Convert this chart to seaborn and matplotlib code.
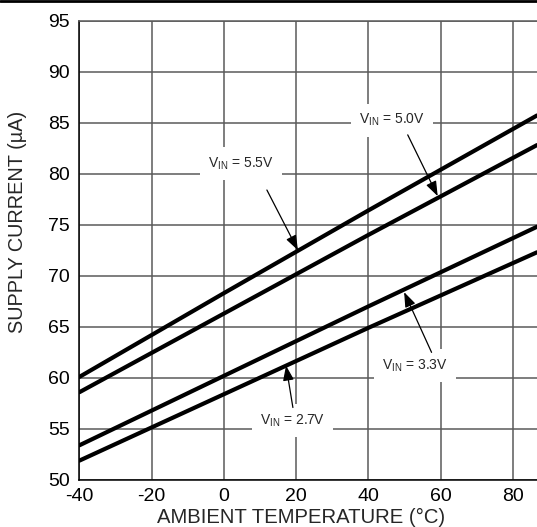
import matplotlib
matplotlib.use("Agg")
import matplotlib.pyplot as plt
import pandas as pd
import seaborn as sns
from matplotlib.lines import Line2D

# temperature (°C) and supply current (µA)
temp_c = [-40, 0, 40, 86.7]
i_55 = [60.1, 68.3, 76.4, 85.7]
i_50 = [58.6, 66.3, 74.0, 82.8]
i_33 = [53.4, 60.2, 67.0, 74.8]
i_27 = [51.9, 58.4, 64.9, 72.3]
vin_labels = ["5.5V", "5.0V", "3.3V", "2.7V"]

x_ticks = [-40, -20, 0, 20, 40, 60, 80]
y_ticks = [50, 55, 60, 65, 70, 75, 80, 85, 90, 95]

sns.set_theme(style="white")
plt.rcParams["font.family"] = ["Liberation Sans", "DejaVu Sans"]
plt.rcParams["mathtext.fontset"] = "custom"
plt.rcParams["mathtext.rm"] = "Liberation Sans"

df = pd.DataFrame({
    "temp": temp_c * 4,
    "current": i_55 + i_50 + i_33 + i_27,
    "vin": [v for v in vin_labels for _ in temp_c],
})

fig = plt.figure(figsize=(5.37, 5.27), dpi=100)
ax = fig.add_axes([0.148, 0.0892, 0.852, 0.8719])

sns.lineplot(data=df, x="temp", y="current", hue="vin",
             palette=["black"] * 4, linewidth=3.0, legend=False, ax=ax)

ax.set_xlim(-40, 86.7)
ax.set_ylim(50, 95)
ax.set_xticks(x_ticks)
ax.set_yticks(y_ticks)
ax.set_xticklabels([str(t) for t in x_ticks])
ax.grid(True, color="#5a5a5a", linewidth=1.1)
ax.set_axisbelow(True)
for sp in ax.spines.values():
    sp.set_color("#5a5a5a")
    sp.set_linewidth(1.1)
ax.spines["left"].set_color("black")
ax.spines["bottom"].set_color("black")
ax.spines["right"].set_visible(False)
ax.tick_params(length=0, labelsize=14, colors="black")
ax.tick_params(axis="x", pad=6)
ax.tick_params(axis="y", pad=7)
ax.set_xlabel("")
ax.set_ylabel("")
fig.text(301 / 537, 1 - 523 / 527, "AMBIENT TEMPERATURE (°C)", fontsize=14.6,
         ha="center", va="baseline")
fig.text(18 / 537, 1 - 221.5 / 527, "SUPPLY CURRENT (µA)", fontsize=14.3,
         rotation=90, ha="center", va="center")

# callouts: label position, arrow tail, arrow head
callouts = [
    ("5.5V", (4.7, 81.0), (11.9, 78.4), (20.5, 72.5)),
    ("5.0V", (46.6, 85.25), (50.9, 83.8), (59.2, 77.8)),
    ("3.3V", (52.9, 61.2), (57.5, 62.5), (49.9, 68.4)),
    ("2.7V", (18.9, 55.8), (19.1, 57.1), (17.2, 61.2)),
]
for v, txt_xy, tail, head in callouts:
    ax.text(txt_xy[0], txt_xy[1], r"V$_{\mathrm{IN}}$ = " + v, fontsize=10,
            ha="center", va="center", zorder=4,
            bbox=dict(facecolor="white", edgecolor="none", pad=6))
    ax.annotate("", xy=head, xytext=tail, zorder=5,
                arrowprops=dict(arrowstyle="-|>,head_length=0.6,head_width=0.22",
                                color="black", lw=0.9, mutation_scale=15,
                                shrinkA=0, shrinkB=0))

fig.add_artist(Line2D([0, 1], [0.998, 0.998], color="black", linewidth=2,
                      transform=fig.transFigure))

fig.savefig("out.png", dpi=100)
